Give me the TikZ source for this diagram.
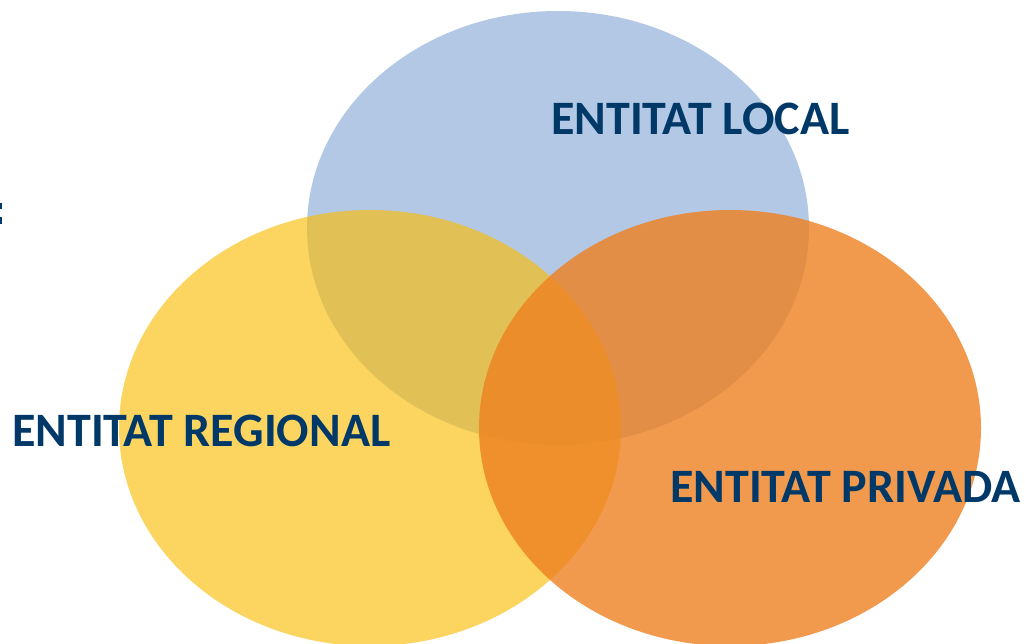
\documentclass[tikz,border=0pt]{standalone}
\usepackage{fontspec}
\setmainfont{Carlito}
\usetikzlibrary{positioning}
\definecolor{localblue}{RGB}{179,200,228}
\definecolor{regionyellow}{RGB}{250,190,10}
\definecolor{privorange}{RGB}{238,128,32}
\definecolor{labelblue}{RGB}{0,56,104}

\begin{document}
\begin{tikzpicture}[x=1pt,y=-1pt,
  label/.style={anchor=base west,inner sep=0pt,text=labelblue,font=\fontsize{48}{52}\selectfont\bfseries}]
\useasboundingbox (0,0) rectangle (1025,644);
\fill[localblue] (558,228) ellipse [x radius=251pt, y radius=217pt];
\fill[regionyellow,fill opacity=0.65] (370,428) ellipse [x radius=251pt, y radius=218pt];
\fill[privorange,fill opacity=0.8] (730,428) ellipse [x radius=251pt, y radius=218pt];
\fill[labelblue] (0,203) rectangle (2,209);
\fill[labelblue] (0,217) rectangle (2,224);
\node[label] (local) at (551,135) {ENTITAT LOCAL};
\node[label] (regional) at (12,446) {ENTITAT REGIONAL};
\node[label] (privada) at (670,502) {ENTITAT PRIVADA};
\end{tikzpicture}
\end{document}
